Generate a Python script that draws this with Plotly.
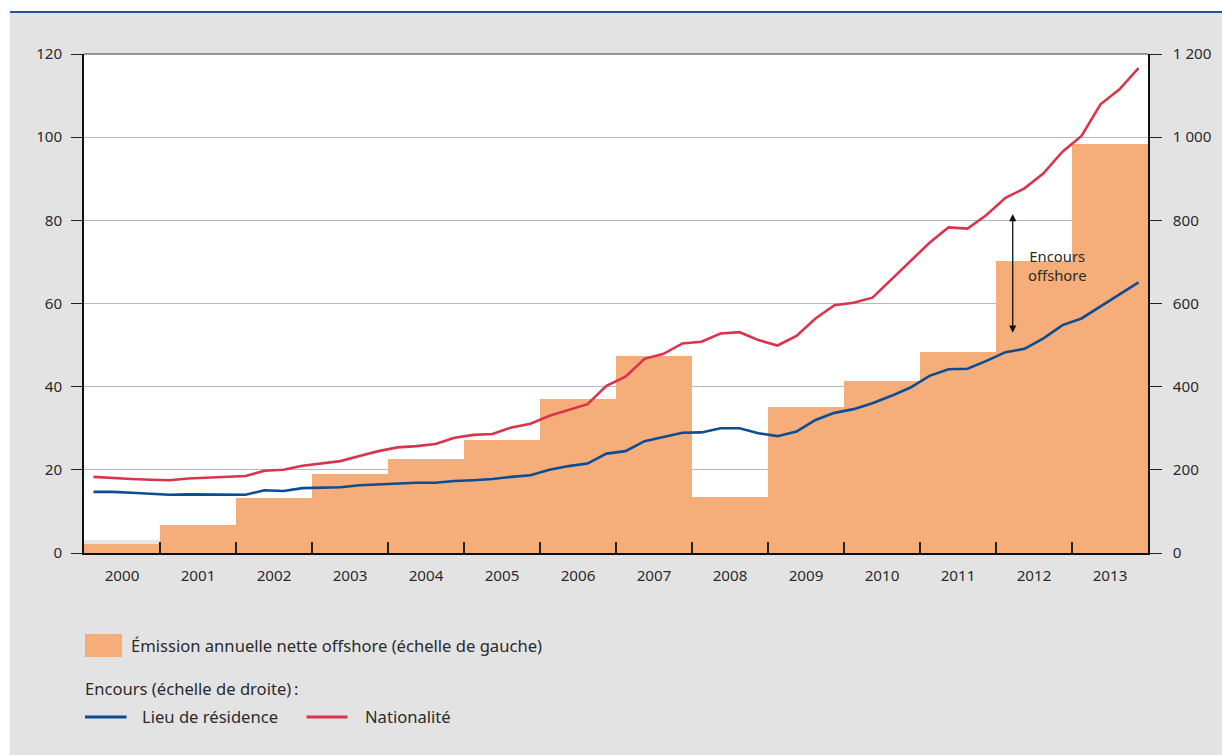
import plotly.graph_objects as go

# ---- data -------------------------------------------------------------
years = list(range(2000, 2014))
year_labels = [str(y) for y in years]

# net annual offshore issuance (left scale)
issuance = [2.2, 6.7, 13.3, 19.0, 22.7, 27.2, 37.0, 47.3,
            13.5, 35.0, 41.3, 48.3, 70.2, 98.3]
# earlier estimate shown behind the first year
issuance_prev = [3.1]

# quarterly outstanding amounts (right scale), 2000 Q1 .. 2013 Q4
residence = [147, 147, 145, 142, 140, 141, 141, 141,
             140, 151, 149, 156, 157, 158, 163, 165,
             168, 169, 169, 173, 175, 178, 183, 187,
             200, 209, 215, 239, 245, 269, 279, 289,
             290, 300, 300, 288, 281, 292, 320, 337,
             346, 360, 378, 398, 426, 442, 443, 462,
             483, 491, 516, 548, 564, 594, 622, 651]
nationality = [183, 180, 178, 176, 175, 179, 181, 183,
               185, 198, 200, 210, 215, 221, 233, 245,
               254, 257, 262, 277, 284, 286, 302, 311,
               330, 344, 358, 402, 424, 467, 479, 504,
               508, 528, 531, 512, 499, 522, 564, 596,
               602, 614, 658, 702, 746, 783, 780, 813,
               854, 877, 913, 965, 1003, 1079, 1115, 1166]

left_ticks = [0, 20, 40, 60, 80, 100, 120]
right_ticks = [0, 200, 400, 600, 800, 1000, 1200]
right_labels = ["0", "200", "400", "600", "800", "1 000", "1 200"]

# ---- layout geometry --------------------------------------------------
W, H = 1222, 755
L, R, T, B = 84, 1148, 54, 553

def px(x):
    return (x - L) / (R - L)

def py(y):
    return (B - y) / (B - T)

ORANGE = "#F5AD79"
BLUE = "#0B4C92"
RED = "#D8354C"
BG = "#E3E3E3"
TXT = "#2b2b2b"
FONT = "Noto Sans"

bar_x = [y + 0.5 for y in years]
quarter_x = [y + (q + 0.5) / 4 for y in years for q in range(4)]

fig = go.Figure()

fig.add_trace(go.Bar(x=bar_x[:1], y=issuance_prev, width=1, marker_color="#E6E6E6",
                     marker_line_width=0, showlegend=False, hoverinfo="skip"))
fig.add_trace(go.Bar(x=bar_x, y=issuance, width=1, marker_color=ORANGE,
                     marker_line_width=0, name="Émission annuelle nette offshore",
                     showlegend=False))
fig.add_trace(go.Scatter(x=quarter_x, y=residence, mode="lines", yaxis="y2",
                         line=dict(color=BLUE, width=2.6), name="Lieu de résidence",
                         showlegend=False))
fig.add_trace(go.Scatter(x=quarter_x, y=nationality, mode="lines", yaxis="y2",
                         line=dict(color=RED, width=2.6), name="Nationalité",
                         showlegend=False))

shapes = [
    # white band and rule at the top, white strip at the left
    dict(type="rect", xref="paper", yref="paper", x0=px(0), x1=px(W), y0=py(0), y1=py(11.5),
         fillcolor="white", line_width=0, layer="above"),
    dict(type="rect", xref="paper", yref="paper", x0=px(0), x1=px(9.5), y0=py(0), y1=py(H),
         fillcolor="white", line_width=0, layer="above"),
    dict(type="line", xref="paper", yref="paper", x0=px(10), x1=px(W), y0=py(12), y1=py(12),
         line=dict(color="#1F5597", width=2), layer="above"),
    # dark top frame of the plot area
    dict(type="line", xref="paper", yref="paper", x0=0, x1=1, y0=1, y1=1,
         line=dict(color="#3a3a3a", width=1.2), layer="above"),
    # legend swatches
    dict(type="rect", xref="paper", yref="paper", x0=px(85), x1=px(122), y0=py(657), y1=py(634),
         fillcolor=ORANGE, line_width=0),
    dict(type="line", xref="paper", yref="paper", x0=px(85), x1=px(126.5), y0=py(717), y1=py(717),
         line=dict(color=BLUE, width=3)),
    dict(type="line", xref="paper", yref="paper", x0=px(306.5), x1=px(347.5), y0=py(717), y1=py(717),
         line=dict(color=RED, width=3)),
]

def label(text, x, y, size=16.6, anchor="left"):
    return dict(text=text, xref="paper", yref="paper", x=px(x), y=py(y),
                xanchor=anchor, yanchor="middle", showarrow=False,
                font=dict(family=FONT, size=size, color=TXT))

annotations = [
    label("Émission annuelle nette offshore (échelle de gauche)", 129, 645),
    label("Encours (échelle de droite)\u202f:", 83, 688),
    label("Lieu de résidence", 140, 717),
    label("Nationalité", 363, 717),
    # double-headed arrow marking the offshore gap
    dict(x=2012.22, y=81.5, ax=2012.22, ay=52.6, xref="x", yref="y", axref="x", ayref="y",
         text="", showarrow=True, arrowhead=2, startarrowhead=2, arrowside="end+start",
         arrowsize=1.1, startarrowsize=1.1, arrowwidth=1.3, arrowcolor="#111"),
    dict(x=2012.8, y=69.1, xref="x", yref="y", text="Encours<br>offshore", showarrow=False,
         xanchor="center", yanchor="middle", align="center",
         font=dict(family=FONT, size=14.8, color=TXT)),
]

fig.update_layout(
    width=W, height=H,
    margin=dict(l=L, r=W - R, t=T, b=H - B, pad=0),
    paper_bgcolor=BG, plot_bgcolor="white",
    barmode="overlay", bargap=0,
    font=dict(family=FONT, size=14, color=TXT),
    showlegend=False,
    shapes=shapes, annotations=annotations,
    xaxis=dict(range=[2000, 2014], tickvals=bar_x, ticktext=year_labels, ticks="",
               showgrid=False, zeroline=False, showline=True, linecolor="#111", linewidth=1.5,
               ticklabelstandoff=8, tickfont=dict(size=15.2),
               minor=dict(tickvals=list(range(2001, 2014)), ticks="inside", ticklen=11,
                          tickcolor="#222", tickwidth=1.5, showgrid=False)),
    yaxis=dict(range=[0, 120], tickvals=left_ticks, ticks="outside", ticklen=11,
               tickcolor="#222", tickwidth=1.2, showline=True, linecolor="#111", linewidth=1.5,
               gridcolor="#B8B8B8", gridwidth=1, zeroline=False, ticklabelstandoff=6,
               tickfont=dict(size=15.2)),
    yaxis2=dict(range=[0, 1200], tickvals=right_ticks, ticktext=right_labels, overlaying="y",
                side="right", ticks="outside", ticklen=12, tickcolor="#222", tickwidth=1.2,
                showline=True, linecolor="#111", linewidth=1.5, showgrid=False, zeroline=False,
                ticklabelstandoff=8, tickfont=dict(size=15.2)),
)

fig.write_html("out.html")
